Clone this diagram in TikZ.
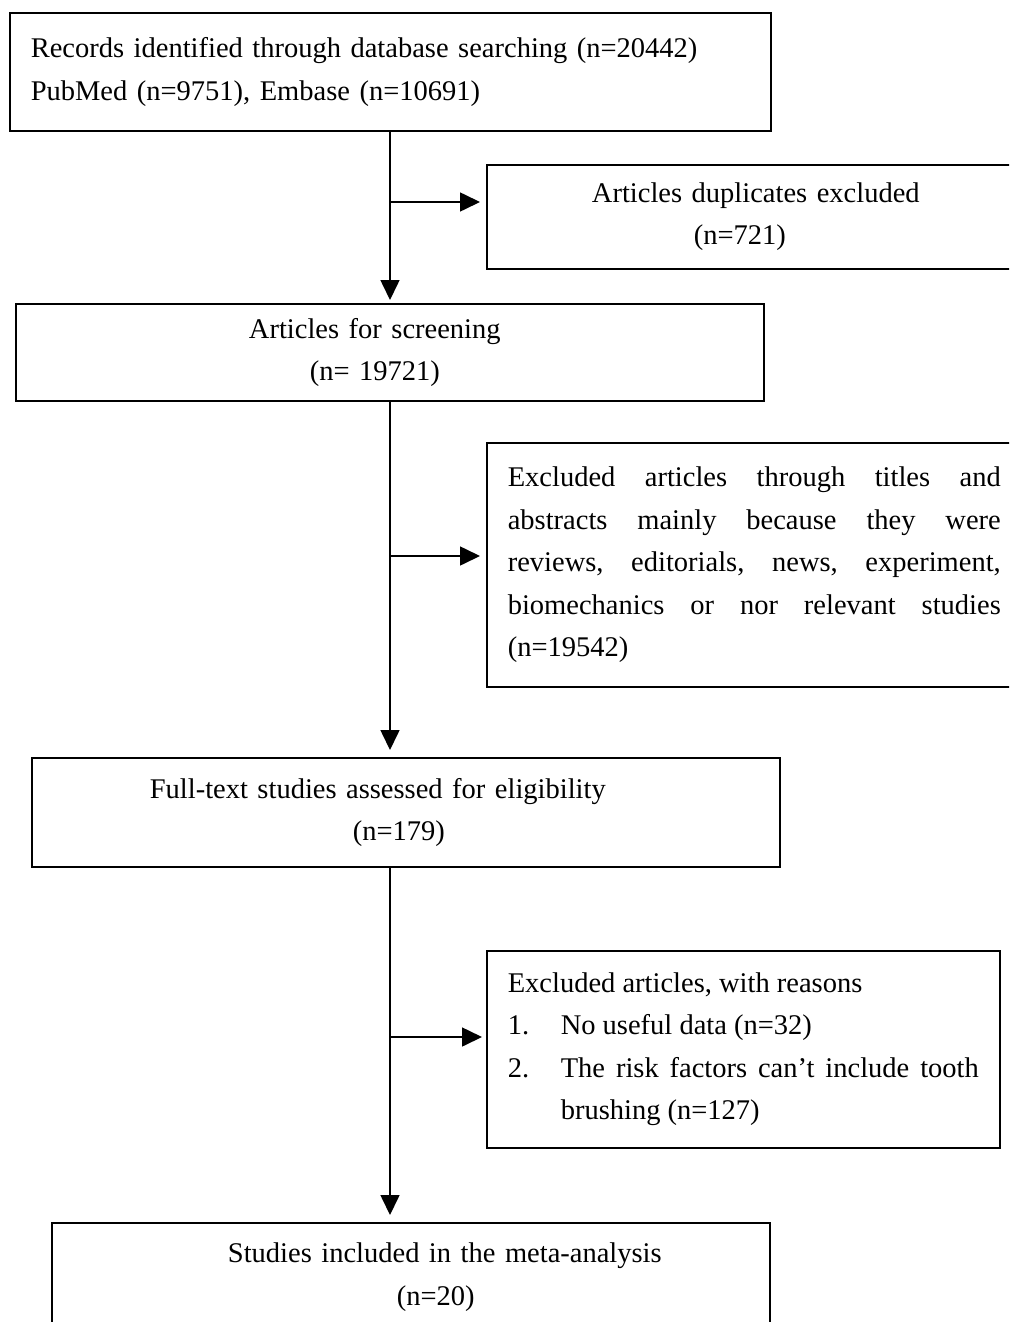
\documentclass[tikz,border=0pt]{standalone}
\usepackage{fontspec}
\setmainfont{Liberation Serif}
\usetikzlibrary{arrows.meta}
\tikzset{%
  flowtip/.tip={Triangle[length=20pt,width=19pt]},
}

\begin{document}
\begin{tikzpicture}[x=1pt,y=-1pt,
  box/.style={draw,line width=1.6pt,inner xsep=21pt,inner ysep=0pt,anchor=north west,
    font=\fontsize{28.5}{42.5}\selectfont},
  flow/.style={line width=1.6pt,-flowtip}]
\clip (0,0) rectangle (1009,1322);
\fill[white] (0,0) rectangle (1009,1322);
% boxes of the main column
\node[box,text width=719pt,align=left,minimum height=118pt] (rec) at (9,12) {Records identified through database searching (n=20442)\\PubMed (n=9751), Embase (n=10691)};
\node[box,text width=706pt,align=center,minimum height=97pt] (scr) at (15,303) {\hspace*{-30pt}Articles for screening\\\hspace*{-30pt}(n= 19721)};
\node[box,text width=706pt,align=center,minimum height=109pt] (ft) at (31,757) {\hspace*{-56pt}Full-text studies assessed for eligibility\\\hspace*{-14pt}(n=179)};
\node[box,text width=676pt,align=center,minimum height=109pt] (st) at (51,1222) {\hspace*{68pt}Studies included in the meta-analysis\\\hspace*{50pt}(n=20)};
% boxes on the right
\node[box,text width=496pt,align=center,minimum height=104pt] (dup) at (486,164) {Articles duplicates excluded\\\hspace*{-32pt}(n=721)};
\node[box,text width=493pt,align=justify,minimum height=244pt] (ex1) at (486,442) {Excluded articles through titles and\linebreak abstracts mainly because they were\linebreak reviews, editorials, news, experiment,\linebreak biomechanics or nor relevant studies\linebreak (n=19542)};
\node[box,text width=471pt,align=justify,minimum height=197pt] (ex2) at (486,950) {Excluded articles, with reasons\\
  \makebox[53pt][l]{1.}No useful data (n=32)\\
  \makebox[53pt][l]{2.}\parbox[t]{418pt}{\rightskip=0pt The risk factors can't include tooth brushing (n=127)}};
% connectors
\coordinate (spine) at (390,0);
\coordinate (b1) at (390,202);
\coordinate (b2) at (390,556);
\coordinate (b3) at (390,1037);
\draw[flow] (spine |- rec.south) -- ([yshift=3pt]spine |- scr.north);
\draw[flow] (spine |- scr.south) -- ([yshift=7pt]spine |- ft.north);
\draw[flow] (spine |- ft.south) -- ([yshift=7pt]spine |- st.north);
\draw[flow] (b1) -- ([xshift=-6pt]b1 -| dup.west);
\draw[flow] (b2) -- ([xshift=-6pt]b2 -| ex1.west);
\draw[flow] (b3) -- ([xshift=-4pt]b3 -| ex2.west);
\end{tikzpicture}
\end{document}
